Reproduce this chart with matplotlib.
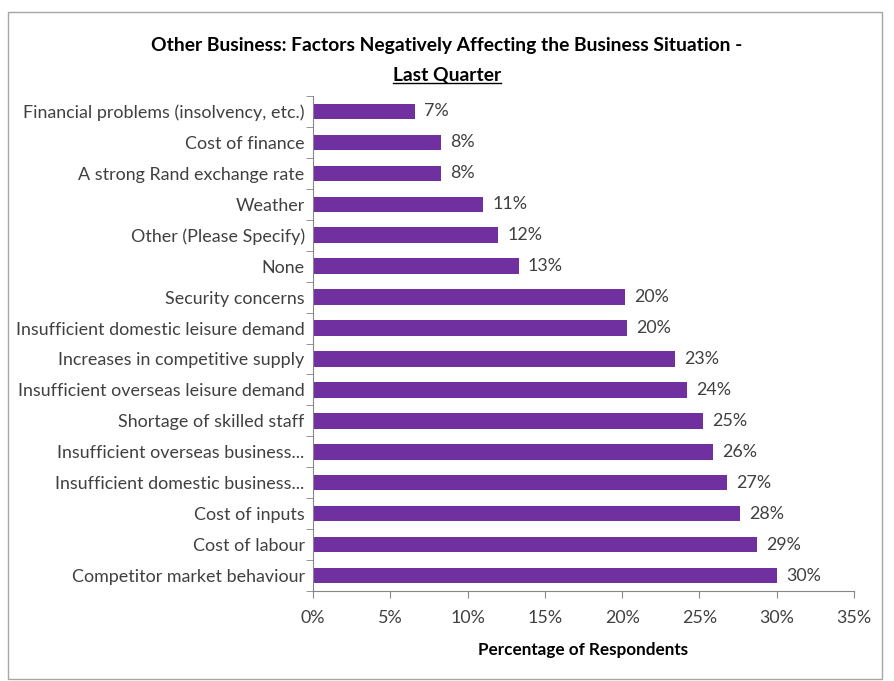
import matplotlib
matplotlib.use("Agg")
import matplotlib.pyplot as plt
from matplotlib.patches import Rectangle
from matplotlib.ticker import FixedLocator, FuncFormatter

plt.rcParams['font.family'] = ['Lato', 'DejaVu Sans']

categories = [
    "Financial problems (insolvency, etc.)",
    "Cost of finance",
    "A strong Rand exchange rate",
    "Weather",
    "Other (Please Specify)",
    "None",
    "Security concerns",
    "Insufficient domestic leisure demand",
    "Increases in competitive supply",
    "Insufficient overseas leisure demand",
    "Shortage of skilled staff",
    "Insufficient overseas business...",
    "Insufficient domestic business...",
    "Cost of inputs",
    "Cost of labour",
    "Competitor market behaviour",
]
values = [6.6, 8.3, 8.3, 11.0, 12.0, 13.3, 20.2, 20.3, 23.4, 24.2, 25.2, 25.9, 26.8, 27.6, 28.7, 30.0]
xticks = [0, 5, 10, 15, 20, 25, 30, 35]

bar_color = "#7030A0"
text_color = "#404040"
axis_color = "#868686"
fs = 12.9

fig = plt.figure(figsize=(8.94, 6.81), dpi=100)
W, H = 894, 681
ax = fig.add_axes([313 / W, 1 - 591 / H, (854 - 313) / W, (591 - 96) / H])

# chart border
fig.patches.append(Rectangle((8 / W, 2 / H), 874 / W, 1 - 14 / H, transform=fig.transFigure,
                             fill=False, edgecolor="#A6A6A6", linewidth=1.0))

ypos = list(range(len(categories)))
ax.barh(ypos, values, height=0.5, color=bar_color)
for y, v in zip(ypos, values):
    ax.text(v + 0.6, y, f"{v:.0f}%", va="center", ha="left", fontsize=fs, color=text_color)

ax.set_ylim(len(categories) - 0.5, -0.5)
ax.set_xlim(0, 35)
ax.set_yticks(ypos)
ax.set_yticklabels(categories)
ax.yaxis.set_minor_locator(FixedLocator([i - 0.5 for i in range(len(categories) + 1)]))
ax.tick_params(axis="y", which="major", length=0, pad=6, labelsize=fs, labelcolor=text_color)
ax.tick_params(axis="y", which="minor", length=5, color=axis_color)

ax.xaxis.set_major_locator(FixedLocator(xticks))
ax.xaxis.set_major_formatter(FuncFormatter(lambda x, p: f"{x:.0f}%"))
ax.tick_params(axis="x", length=5, color=axis_color, pad=9, labelsize=fs, labelcolor=text_color)

for s in ["top", "right"]:
    ax.spines[s].set_visible(False)
for s in ["left", "bottom"]:
    ax.spines[s].set_color(axis_color)

ax.set_xlabel("Percentage of Respondents", fontsize=12.3, fontweight="bold", color="black", labelpad=11)

fig.text(0.5, 1 - 45 / H, "Other Business: Factors Negatively Affecting the Business Situation -",
         ha="center", va="center", fontsize=13.9, fontweight="bold", color="black")
t2 = fig.text(0.5, 1 - 75 / H, "Last Quarter", ha="center", va="center",
              fontsize=13.9, fontweight="bold", color="black")

# underline the second title line
fig.canvas.draw()
bb = t2.get_window_extent()
fig.add_artist(plt.Line2D([bb.x0 / W, bb.x1 / W], [(bb.y0 + 1) / H, (bb.y0 + 1) / H],
                          transform=fig.transFigure, color="black", linewidth=1.0))

fig.savefig("out.png", dpi=100)
